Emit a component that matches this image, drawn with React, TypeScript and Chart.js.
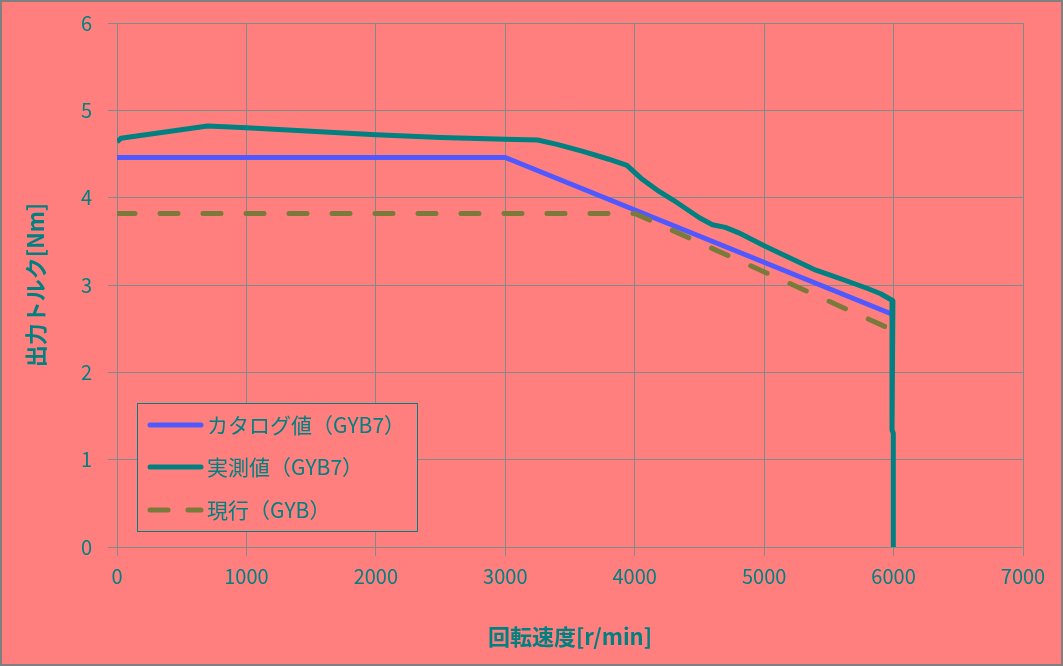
import React, { useEffect, useRef } from "react";
import { Chart, registerables } from "chart.js";

Chart.register(...registerables);

const catalogSpeed = [0, 3000, 6000];
const catalogTorque = [4.46, 4.46, 2.66];

const measuredSpeed = [0, 30, 700, 1000, 1500, 2000, 2500, 3000, 3250, 3400, 3600, 3800, 3940, 4050, 4170, 4300, 4500, 4600, 4700, 4800, 5000, 5200, 5400, 5500, 5650, 5800, 5900, 5995, 5988, 5988, 5998, 5998];
const measuredTorque = [4.64, 4.68, 4.82, 4.8, 4.76, 4.72, 4.69, 4.67, 4.66, 4.61, 4.53, 4.44, 4.37, 4.22, 4.09, 3.97, 3.77, 3.69, 3.66, 3.6, 3.45, 3.31, 3.17, 3.12, 3.04, 2.96, 2.9, 2.82, 2.72, 1.34, 1.3, 0];

const currentSpeed = [0, 4000, 6000];
const currentTorque = [3.82, 3.82, 2.48];

const xTicks = [0, 1000, 2000, 3000, 4000, 5000, 6000, 7000];
const yTicks = [0, 1, 2, 3, 4, 5, 6];

const seriesNames = ["カタログ値（GYB7）", "実測値（GYB7）", "現行（GYB）"];
const xTitle = "回転速度[r/min]";
const yTitle = "出力トルク[Nm]";

const TEAL = "#008080";
const BG = "#ff7f7f";
const GRID = "#7f8a8a";
const BLUE = "#5058ff";
const OLIVE = "#7a7a3a";
const FONT = "'Noto Sans CJK JP', 'Noto Sans', sans-serif";

const toPts = (xs: number[], ys: number[]) => xs.map((x, i) => ({ x, y: ys[i] }));

const bgPlugin = {
  id: "bgPlugin",
  beforeDraw(chart: any) {
    const { ctx, width, height } = chart;
    ctx.save();
    ctx.fillStyle = BG;
    ctx.fillRect(0, 0, width, height);
    ctx.restore();
  },
  afterDraw(chart: any) {
    const { ctx, width, height } = chart;
    ctx.save();
    ctx.strokeStyle = "#808080";
    ctx.lineWidth = 2;
    ctx.strokeRect(1, 1, width - 2, height - 2);
    ctx.restore();
  },
};

const legendPlugin = {
  id: "boxLegend",
  afterDatasetsDraw(chart: any) {
    const { ctx } = chart;
    const bx = 137.5, by = 403.5, bw = 280, bh = 128;
    ctx.save();
    ctx.fillStyle = BG;
    ctx.fillRect(bx, by, bw, bh);
    ctx.strokeStyle = TEAL;
    ctx.lineWidth = 1;
    ctx.strokeRect(bx, by, bw, bh);
    const rows = [425, 467, 510];
    const dsIdx = [0, 1, 2];
    dsIdx.forEach((di, r) => {
      const ds = chart.data.datasets[di];
      const y = rows[r];
      ctx.beginPath();
      ctx.strokeStyle = ds.borderColor;
      ctx.lineWidth = ds.borderWidth;
      ctx.lineCap = "round";
      ctx.setLineDash(ds.borderDash ? [18, 20] : []);
      ctx.moveTo(150, y);
      ctx.lineTo(201, y);
      ctx.stroke();
      ctx.setLineDash([]);
      ctx.fillStyle = TEAL;
      ctx.font = `21px ${FONT}`;
      ctx.textBaseline = "middle";
      ctx.textAlign = "left";
      ctx.fillText(ds.label, 207, y);
    });
    ctx.restore();
  },
};

export default function App() {
  const ref = useRef<HTMLCanvasElement | null>(null);
  useEffect(() => {
    document.body.style.margin = "0";
    const canvas = ref.current!;
    const chart = new Chart(canvas, {
      type: "scatter",
      data: {
        datasets: [
          {
            label: seriesNames[0],
            data: toPts(catalogSpeed, catalogTorque),
            showLine: true,
            borderColor: BLUE,
            borderWidth: 5,
            pointRadius: 0,
            order: 2,
            borderJoinStyle: "round",
          } as any,
          {
            label: seriesNames[1],
            data: toPts(measuredSpeed, measuredTorque),
            showLine: true,
            borderColor: TEAL,
            borderWidth: 5,
            pointRadius: 0,
            order: 1,
            borderJoinStyle: "round",
          } as any,
          {
            label: seriesNames[2],
            data: toPts(currentSpeed, currentTorque),
            showLine: true,
            borderColor: OLIVE,
            borderWidth: 5,
            borderDash: [18, 25],
            borderCapStyle: "round",
            pointRadius: 0,
            order: 0,
          } as any,
        ],
      },
      options: {
        responsive: false,
        animation: false,
        layout: { padding: { left: 0, right: 40, top: 23, bottom: 0 } },
        plugins: { legend: { display: false }, tooltip: { enabled: false } },
        scales: {
          x: {
            type: "linear",
            min: 0,
            max: 7000,
            afterBuildTicks: (axis: any) => {
              axis.ticks = xTicks.map((v) => ({ value: v }));
            },
            afterFit: (axis: any) => {
              axis.height = 119;
              axis.paddingLeft = 0;
              axis.paddingRight = 0;
            },
            grid: { color: GRID, lineWidth: 1, tickLength: 9 },
            border: { color: GRID },
            ticks: {
              color: TEAL,
              font: { family: FONT, size: 20 },
              padding: 8,
              maxRotation: 0,
              autoSkip: false,
              callback: (v: any) => String(v),
            },
            title: {
              display: true,
              text: xTitle,
              color: TEAL,
              font: { family: FONT, size: 22, weight: "bold" },
              padding: { top: 0, bottom: 16 },
            },
          },
          y: {
            type: "linear",
            min: 0,
            max: 6,
            afterBuildTicks: (axis: any) => {
              axis.ticks = yTicks.map((v) => ({ value: v }));
            },
            afterFit: (axis: any) => {
              axis.width = 117;
              axis.paddingTop = 0;
              axis.paddingBottom = 0;
            },
            grid: { color: GRID, lineWidth: 1, tickLength: 9 },
            border: { color: GRID },
            ticks: {
              color: TEAL,
              font: { family: FONT, size: 20 },
              padding: 16,
              autoSkip: false,
              callback: (v: any) => String(v),
            },
            title: {
              display: true,
              text: yTitle,
              color: TEAL,
              font: { family: FONT, size: 22, weight: "bold" },
              padding: { top: 22, bottom: 0 },
            },
          },
        },
      },
      plugins: [bgPlugin, legendPlugin],
    });
    return () => chart.destroy();
  }, []);
  return (
    <div style={{ width: 1063, height: 666 }}>
      <canvas ref={ref} width={1063} height={666} style={{ display: "block" }} />
    </div>
  );
}
